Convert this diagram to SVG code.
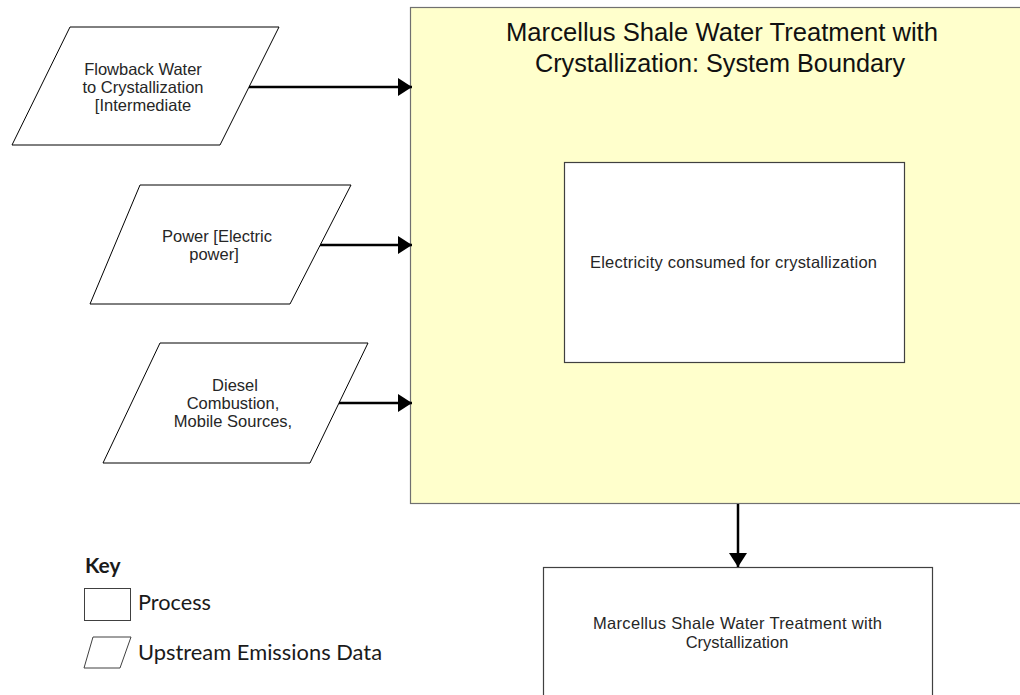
<svg xmlns="http://www.w3.org/2000/svg" width="1020" height="695" viewBox="0 0 1020 695">
<style>
.para{fill:#ffffff;stroke:#000000;stroke-width:1}
.box{fill:#ffffff;stroke:#404040;stroke-width:1.2}
.boundary{fill:#ffffcc;stroke:#707070;stroke-width:1.2}
.lbl{font-family:"Liberation Sans",Arial,sans-serif;font-size:16.5px;fill:#262626;text-anchor:middle}
.title{font-family:"Liberation Sans",Arial,sans-serif;font-size:25px;fill:#111111;text-anchor:middle}
.key{font-family:Lato,"Liberation Sans",sans-serif;font-size:21px;fill:#1a1a1a}
.conn{stroke:#000000;stroke-width:2.5;fill:none}
</style>
<defs>
<marker id="ah" markerUnits="userSpaceOnUse" markerWidth="14" markerHeight="18" refX="14" refY="9" orient="auto">
<path d="M0,0 L14,9 L0,18 z" fill="#000000"/>
</marker>
</defs>
<rect width="1020" height="695" fill="#ffffff"/>

<g id="boundary">
<rect class="boundary" x="410.5" y="7.5" width="630" height="496"/>
<text class="title" x="722" y="41" textLength="432" lengthAdjust="spacingAndGlyphs">Marcellus Shale Water Treatment with</text>
<text class="title" x="720" y="72" textLength="370" lengthAdjust="spacingAndGlyphs">Crystallization: System Boundary</text>
</g>

<g id="electricity">
<rect class="box" x="564.5" y="162.5" width="340" height="200"/>
<text class="lbl" x="733.5" y="268" textLength="287" lengthAdjust="spacing">Electricity consumed for crystallization</text>
</g>

<g id="flowback">
<polygon class="para" points="70,27 279,27 220,145 12,145"/>
<text class="lbl" x="143" y="75">Flowback Water</text>
<text class="lbl" x="143" y="93">to Crystallization</text>
<text class="lbl" x="143" y="111">[Intermediate</text>
</g>

<g id="power">
<polygon class="para" points="140,185 351,185 290,304 90,304"/>
<text class="lbl" x="217" y="242">Power [Electric</text>
<text class="lbl" x="214" y="260">power]</text>
</g>

<g id="diesel">
<polygon class="para" points="160,343 368,343 310,463 103,463"/>
<text class="lbl" x="235" y="391">Diesel</text>
<text class="lbl" x="233" y="409">Combustion,</text>
<text class="lbl" x="233" y="427">Mobile Sources,</text>
</g>

<g id="output">
<rect class="box" x="543.5" y="567.5" width="389" height="140"/>
<text class="lbl" x="737.5" y="629" textLength="289" lengthAdjust="spacing">Marcellus Shale Water Treatment with</text>
<text class="lbl" x="737" y="648">Crystallization</text>
</g>

<g id="connectors">
<line class="conn" x1="249" y1="87" x2="412" y2="87" marker-end="url(#ah)"/>
<line class="conn" x1="320" y1="245" x2="412" y2="245" marker-end="url(#ah)"/>
<line class="conn" x1="339" y1="403" x2="412" y2="403" marker-end="url(#ah)"/>
<line class="conn" x1="738" y1="504" x2="738" y2="567" marker-end="url(#ah)"/>
</g>

<g id="legend">
<text class="key" x="85" y="573" font-weight="bold">Key</text>
<rect x="84.5" y="588.5" width="46" height="32" fill="#ffffff" stroke="#404040" stroke-width="1"/>
<text class="key" x="138" y="610" textLength="73" lengthAdjust="spacingAndGlyphs">Process</text>
<polygon points="93,637 131,637 120,668 84,668" fill="#ffffff" stroke="#404040" stroke-width="1"/>
<text class="key" x="138" y="660" textLength="244" lengthAdjust="spacingAndGlyphs">Upstream Emissions Data</text>
</g>
</svg>
